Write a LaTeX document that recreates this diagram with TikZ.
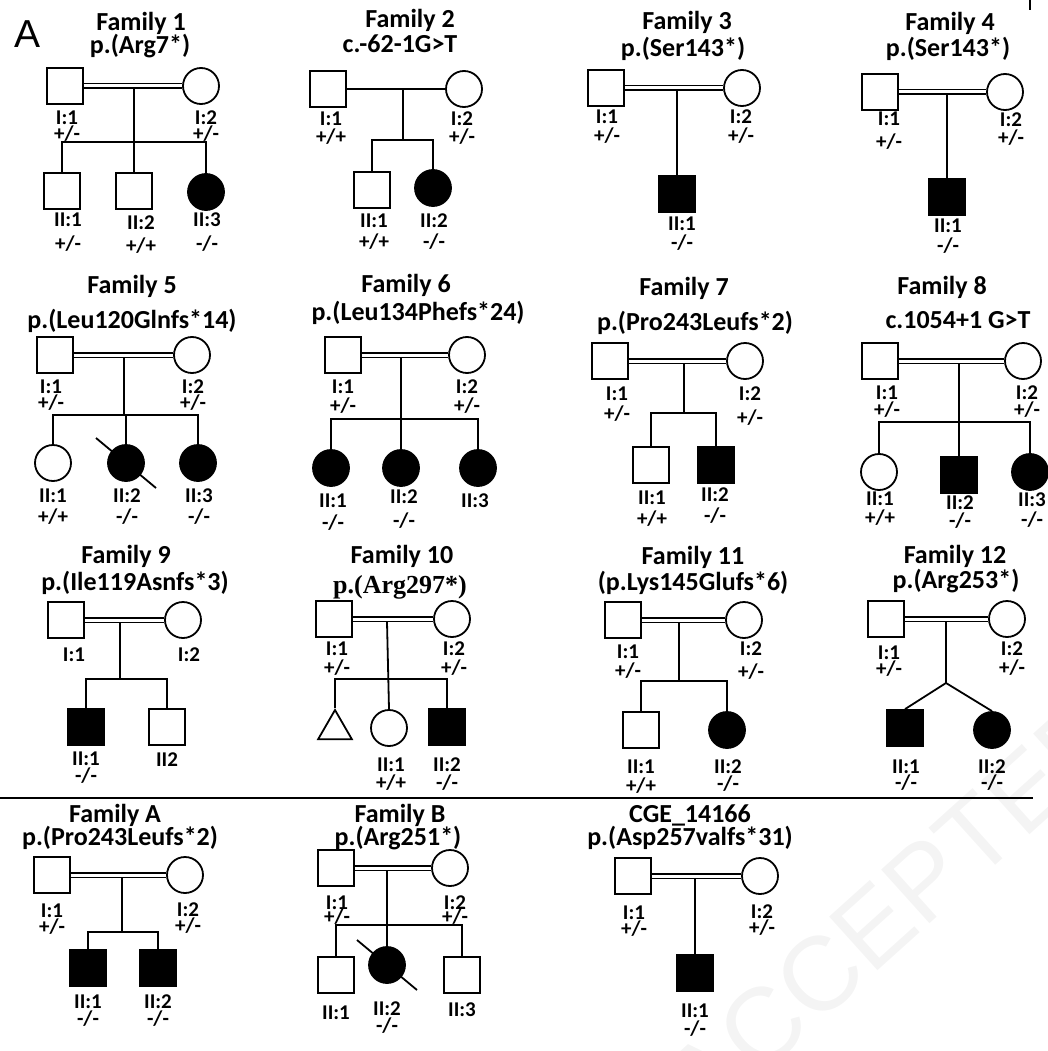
\documentclass[tikz,border=0pt]{standalone}
\usepackage{fontspec}
\setmainfont{Carlito}
\newfontfamily\timesfont{Liberation Serif}
\newfontfamily\arialfont{Liberation Sans}
\usetikzlibrary{shapes.geometric}
\definecolor{ink}{HTML}{000000}
\definecolor{stampgray}{HTML}{F4F4F4}
\tikzset{
  male/.style={
    rectangle,
    draw=ink,
    fill=white,
    line width=1.8pt,
    minimum size=36pt,
    inner sep=0pt
  },
  female/.style={male,circle},
  unknown/.style={male,regular polygon,regular polygon sides=3,minimum size=39pt},
  hit/.style={fill=ink},
  couple/.style={draw=ink,line width=1.8pt},
  kin couple/.style={draw=ink,line width=1.6pt,double=white,double distance=3pt},
  descent/.style={draw=ink,line width=1.8pt},
  deceased/.style={draw=ink,line width=1.8pt},
  family title/.style={
    anchor=base,
    inner sep=0pt,
    text=ink,
    font=\bfseries\fontsize{26}{30}\selectfont
  },
  tag/.style={
    inner sep=0pt,
    align=center,
    text=ink,
    font=\bfseries\fontsize{21}{17}\selectfont
  }
}

\begin{document}
\begin{tikzpicture}[x=1pt,y=-1pt]
  \useasboundingbox (0,0) rectangle (1048,1051);

  \node[rotate=42,text=stampgray,font=\arialfont\fontsize{105}{105}\selectfont]
    (stamp) at (895,907) {ACCEPTED};

  \node[anchor=base,inner sep=0pt,text=ink,font=\arialfont\fontsize{39}{40}\selectfont]
    (panel) at (28,48) {A};
  \draw[descent] (1030,0) -- (1030,10);

  % Family 1
  \node[family title] (f1name) at (141,31) {Family 1};
  \node[family title] (f1var) at (140,54) {p.(Arg7*)};
  \node[male] (f1i1) at (65,86) {};
  \node[female] (f1i2) at (201,86) {};
  \node[male] (f1ii1) at (62,191) {};
  \node[male] (f1ii2) at (134,191) {};
  \node[female,hit] (f1ii3) at (206,192) {};
  \coordinate (f1mid) at (134,89);
  \coordinate (f1sib) at (134,142);
  \draw[kin couple] (f1i1.east) -- (f1i2.west);
  \draw[descent] (f1mid) -- (f1ii2.north);
  \draw[descent] (f1ii1.north) |- (f1sib) -| (f1ii3.north);
  \node[tag] (f1i1tag) at (67,126) {I:1\\[-1pt]+/-};
  \node[tag] (f1i2tag) at (206,126) {I:2\\[-1pt]+/-};
  \node[tag] (f1ii1tag) at (68,232) {II:1\\[7pt]+/-};
  \node[tag] (f1ii2tag) at (141,235) {II:2\\[6pt]+/+};
  \node[tag] (f1ii3tag) at (207,232) {II:3\\[7pt]-/-};

  % Family 2
  \node[family title] (f2name) at (410,28) {Family 2};
  \node[family title] (f2var) at (400,53) {c.-62-1G>T};
  \node[male] (f2i1) at (328,89) {};
  \node[female] (f2i2) at (464,89) {};
  \node[male] (f2ii1) at (372,190) {};
  \node[female,hit] (f2ii2) at (433,188) {};
  \coordinate (f2mid) at (403,89);
  \coordinate (f2sib) at (403,140);
  \draw[couple] (f2i1.east) -- (f2i2.west);
  \draw[descent] (f2mid) -- (f2sib);
  \draw[descent] (f2ii1.north) |- (f2sib) -| (f2ii2.north);
  \node[tag] (f2i1tag) at (331,128) {I:1\\[1pt]+/+};
  \node[tag] (f2i2tag) at (462,128) {I:2\\[1pt]+/-};
  \node[tag] (f2ii1tag) at (374,232) {II:1\\[4pt]+/+};
  \node[tag] (f2ii2tag) at (434,232) {II:2\\[4pt]-/-};

  % Family 3
  \node[family title] (f3name) at (687,30) {Family 3};
  \node[family title] (f3var) at (683,57) {p.(Ser143*)};
  \node[male] (f3i1) at (606,88) {};
  \node[female] (f3i2) at (742,88) {};
  \node[male,hit] (f3ii1) at (677,194) {};
  \coordinate (f3mid) at (677,91);
  \draw[kin couple] (f3i1.east) -- (f3i2.west);
  \draw[descent] (f3mid) -- (f3ii1.north);
  \node[tag] (f3i1tag) at (607,127) {I:1\\[2pt]+/-};
  \node[tag] (f3i2tag) at (741,127) {I:2\\[2pt]+/-};
  \node[tag] (f3ii1tag) at (682,234) {II:1\\[2pt]-/-};

  % Family 4
  \node[family title] (f4name) at (950,31) {Family 4};
  \node[family title] (f4var) at (948,57) {p.(Ser143*)};
  \node[male] (f4i1) at (880,92) {};
  \node[female] (f4i2) at (1005,92) {};
  \node[male,hit] (f4ii1) at (947,197) {};
  \coordinate (f4mid) at (947,95);
  \draw[kin couple] (f4i1.east) -- (f4i2.west);
  \draw[descent] (f4mid) -- (f4ii1.north);
  \node[tag] (f4i1tag) at (889,131) {I:1\\[6pt]+/-};
  \node[tag] (f4i2tag) at (1011,129) {I:2\\[1pt]+/-};
  \node[tag] (f4ii1tag) at (948,236) {II:1\\[3pt]-/-};

  % Family 5
  \node[family title] (f5name) at (132,293) {Family 5};
  \node[family title] (f5var) at (132,328) {p.(Leu120Glnfs*14)};
  \node[male] (f5i1) at (55,355) {};
  \node[female] (f5i2) at (192,355) {};
  \node[female] (f5ii1) at (53,463) {};
  \node[female,hit] (f5ii2) at (126,463) {};
  \node[female,hit] (f5ii3) at (198,463) {};
  \coordinate (f5mid) at (124,358);
  \coordinate (f5sib) at (124,415);
  \draw[kin couple] (f5i1.east) -- (f5i2.west);
  \draw[descent] (f5mid) -- (f5sib);
  \draw[descent] (f5ii1.north) |- (f5sib) -| (f5ii3.north);
  \draw[descent] (f5sib) -| (f5ii2.north);
  \draw[deceased] ([xshift=-30pt,yshift=25pt]f5ii2.center) --
    ([xshift=30pt,yshift=-25pt]f5ii2.center);
  \node[tag] (f5i1tag) at (51,395) {I:1\\[-1pt]+/-};
  \node[tag] (f5i2tag) at (193,395) {I:2\\[-1pt]+/-};
  \node[tag] (f5ii1tag) at (53,507) {II:1\\[4pt]+/+};
  \node[tag] (f5ii2tag) at (127,507) {II:2\\[4pt]-/-};
  \node[tag] (f5ii3tag) at (199,507) {II:3\\[4pt]-/-};

  % Family 6
  \node[family title] (f6name) at (406,292) {Family 6};
  \node[family title] (f6var) at (418,320) {p.(Leu134Phefs*24)};
  \node[male] (f6i1) at (343,355) {};
  \node[female] (f6i2) at (467,355) {};
  \node[female,hit] (f6ii1) at (331,468) {};
  \node[female,hit] (f6ii2) at (401,468) {};
  \node[female,hit] (f6ii3) at (478,468) {};
  \coordinate (f6mid) at (401,358);
  \coordinate (f6sib) at (401,419);
  \draw[kin couple] (f6i1.east) -- (f6i2.west);
  \draw[descent] (f6mid) -- (f6ii2.north);
  \draw[descent] (f6ii1.north) |- (f6sib) -| (f6ii3.north);
  \node[tag] (f6i1tag) at (343,397) {I:1\\[2pt]+/-};
  \node[tag] (f6i2tag) at (467,397) {I:2\\[2pt]+/-};
  \node[tag] (f6ii1tag) at (333,512) {II:1\\[5pt]-/-};
  \node[tag] (f6ii2tag) at (404,509) {II:2\\[7pt]-/-};
  \node[tag] (f6ii3tag) at (475,501) {II:3};

  % Family 7
  \node[family title] (f7name) at (684,295) {Family 7};
  \node[family title] (f7var) at (695,330) {p.(Pro243Leufs*2)};
  \node[male] (f7i1) at (610,361) {};
  \node[female] (f7i2) at (745,361) {};
  \node[male] (f7ii1) at (651,465) {};
  \node[male,hit] (f7ii2) at (716,465) {};
  \coordinate (f7mid) at (684,364);
  \coordinate (f7sib) at (684,413);
  \draw[kin couple] (f7i1.east) -- (f7i2.west);
  \draw[descent] (f7mid) -- (f7sib);
  \draw[descent] (f7ii1.north) |- (f7sib) -| (f7ii2.north);
  \node[tag] (f7i1tag) at (617,404) {I:1\\[3pt]+/-};
  \node[tag] (f7i2tag) at (750,406) {I:2\\[7pt]+/-};
  \node[tag] (f7ii1tag) at (652,509) {II:1\\[4pt]+/+};
  \node[tag] (f7ii2tag) at (715,506) {II:2\\[4pt]-/-};

  % Family 8
  \node[family title] (f8name) at (942,294) {Family 8};
  \node[family title] (f8var) at (958,328) {c.1054+1 G>T};
  \node[male] (f8i1) at (880,361) {};
  \node[female] (f8i2) at (1023,361) {};
  \node[female] (f8ii1) at (879,472) {};
  \node[male,hit] (f8ii2) at (959,475) {};
  \node[female,hit] (f8ii3) at (1030,472) {};
  \coordinate (f8mid) at (959,364);
  \coordinate (f8sib) at (959,422);
  \draw[kin couple] (f8i1.east) -- (f8i2.west);
  \draw[descent] (f8mid) -- (f8ii2.north);
  \draw[descent] (f8ii1.north) |- (f8sib) -| (f8ii3.north);
  \node[tag] (f8i1tag) at (887,402) {I:1\\[0pt]+/-};
  \node[tag] (f8i2tag) at (1027,402) {I:2\\[0pt]+/-};
  \node[tag] (f8ii1tag) at (880,509) {II:1\\[2pt]+/+};
  \node[tag] (f8ii2tag) at (960,512) {II:2\\[1pt]-/-};
  \node[tag] (f8ii3tag) at (1032,510) {II:3\\[3pt]-/-};

  % Family 9
  \node[family title] (f9name) at (126,563) {Family 9};
  \node[family title] (f9var) at (135,590) {p.(Ile119Asnfs*3)};
  \node[male] (f9i1) at (66,620) {};
  \node[female] (f9i2) at (183,620) {};
  \node[male,hit] (f9ii1) at (86,727) {};
  \node[male] (f9ii2) at (167,727) {};
  \coordinate (f9mid) at (120,623);
  \coordinate (f9sib) at (120,679);
  \draw[kin couple] (f9i1.east) -- (f9i2.west);
  \draw[descent] (f9mid) -- (f9sib);
  \draw[descent] (f9ii1.north) |- (f9sib) -| (f9ii2.north);
  \node[tag] (f9i1tag) at (74,655) {I:1};
  \node[tag] (f9i2tag) at (189,655) {I:2};
  \node[tag] (f9ii1tag) at (86,768) {II:1\\[0pt]-/-};
  \node[tag] (f9ii2tag) at (167,760) {II2};

  % Family 10
  \node[family title] (f10name) at (402,563) {Family 10};
  \node[family title,font=\timesfont\bfseries\fontsize{26}{30}\selectfont]
    (f10var) at (400,593) {p.(Arg297*)};
  \node[male] (f10i1) at (334,619) {};
  \node[female] (f10i2) at (452,619) {};
  \node[unknown] (f10ii0) at (335,729.5) {};
  \node[female] (f10ii1) at (389,728) {};
  \node[male,hit] (f10ii2) at (447,727) {};
  \coordinate (f10mid) at (387,622);
  \coordinate (f10sib) at (387,679);
  \draw[kin couple] (f10i1.east) -- (f10i2.west);
  \draw[descent] (f10mid) -- (f10ii1.north);
  \draw[descent] (f10ii0.north) |- (f10sib) -| (f10ii2.north);
  \node[tag] (f10i1tag) at (337,659) {I:1\\[2pt]+/-};
  \node[tag] (f10i2tag) at (454,659) {I:2\\[2pt]+/-};
  \node[tag] (f10ii1tag) at (391,774) {II:1\\[1pt]+/+};
  \node[tag] (f10ii2tag) at (447,774) {II:2\\[1pt]-/-};

  % Family 11
  \node[family title] (f11name) at (693,564) {Family 11};
  \node[family title] (f11var) at (693,590) {(p.Lys145Glufs*6)};
  \node[male] (f11i1) at (623,620) {};
  \node[female] (f11i2) at (744,620) {};
  \node[male] (f11ii1) at (641,730) {};
  \node[female,hit] (f11ii2) at (727,730) {};
  \coordinate (f11mid) at (679,623);
  \coordinate (f11sib) at (679,681);
  \draw[kin couple] (f11i1.east) -- (f11i2.west);
  \draw[descent] (f11mid) -- (f11sib);
  \draw[descent] (f11ii1.north) |- (f11sib) -| (f11ii2.north);
  \node[tag] (f11i1tag) at (628,662) {I:1\\[2pt]+/-};
  \node[tag] (f11i2tag) at (751,661) {I:2\\[6pt]+/-};
  \node[tag] (f11ii1tag) at (641,777) {II:1\\[2pt]+/+};
  \node[tag] (f11ii2tag) at (728,776) {II:2\\[0pt]-/-};

  % Family 12
  \node[family title] (f12name) at (955,563) {Family 12};
  \node[family title] (f12var) at (956,588) {p.(Arg253*)};
  \node[male] (f12i1) at (886,619) {};
  \node[female] (f12i2) at (1007,619) {};
  \node[male,hit] (f12ii1) at (905,728) {};
  \node[female,hit] (f12ii2) at (992,730) {};
  \coordinate (f12mid) at (946,622);
  \coordinate (f12twin) at (946,683);
  \draw[kin couple] (f12i1.east) -- (f12i2.west);
  \draw[descent] (f12mid) -- (f12twin);
  \draw[descent] (f12ii1.north) -- (f12twin) -- (f12ii2.north);
  \node[tag] (f12i1tag) at (889,661) {I:1\\[-1pt]+/-};
  \node[tag] (f12i2tag) at (1012,659) {I:2\\[2pt]+/-};
  \node[tag] (f12ii1tag) at (906,775) {II:1\\[-1pt]-/-};
  \node[tag] (f12ii2tag) at (992,775) {II:2\\[-1pt]-/-};

  \draw[descent] (0,798) -- (1033,798);

  % Family A
  \node[family title] (faname) at (115,822) {Family A};
  \node[family title] (favar) at (120,845) {p.(Pro243Leufs*2)};
  \node[male] (fai1) at (52,875) {};
  \node[female] (fai2) at (185,875) {};
  \node[male,hit] (faii1) at (88,968) {};
  \node[male,hit] (faii2) at (158,968) {};
  \coordinate (famid) at (122,878);
  \coordinate (fasib) at (122,932);
  \draw[kin couple] (fai1.east) -- (fai2.west);
  \draw[descent] (famid) -- (fasib);
  \draw[descent] (faii1.north) |- (fasib) -| (faii2.north);
  \node[tag] (fai1tag) at (52,919) {I:1\\[-1pt]+/-};
  \node[tag] (fai2tag) at (188,918) {I:2\\[-1pt]+/-};
  \node[tag] (faii1tag) at (88,1011) {II:1\\[0pt]-/-};
  \node[tag] (faii2tag) at (158,1011) {II:2\\[0pt]-/-};

  % Family B
  \node[family title] (fbname) at (400,822) {Family B};
  \node[family title] (fbvar) at (398,845) {p.(Arg251*)};
  \node[male] (fbi1) at (336,868) {};
  \node[female] (fbi2) at (450,868) {};
  \node[male] (fbii1) at (336,975) {};
  \node[female,hit] (fbii2) at (387,965) {};
  \node[male] (fbii3) at (462,975) {};
  \coordinate (fbmid) at (387,871);
  \coordinate (fbsib) at (387,925);
  \draw[kin couple] (fbi1.east) -- (fbi2.west);
  \draw[descent] (fbmid) -- (fbii2.north);
  \draw[descent] (fbii1.north) |- (fbsib) -| (fbii3.north);
  \draw[deceased] ([xshift=-30pt,yshift=25pt]fbii2.center) --
    ([xshift=30pt,yshift=-25pt]fbii2.center);
  \node[tag] (fbi1tag) at (337,910) {I:1\\[-3pt]+/-};
  \node[tag] (fbi2tag) at (455,910) {I:2\\[-3pt]+/-};
  \node[tag] (fbii1tag) at (336,1013) {II:1};
  \node[tag] (fbii2tag) at (387,1018) {II:2\\[0pt]-/-};
  \node[tag] (fbii3tag) at (462,1010) {II:3};

  % CGE_14166
  \node[family title] (fcname) at (690,822) {CGE\_14166};
  \node[family title] (fcvar) at (690,845) {p.(Asp257valfs*31)};
  \node[male] (fci1) at (633,876) {};
  \node[female] (fci2) at (760,876) {};
  \node[male,hit] (fcii1) at (695,973) {};
  \coordinate (fcmid) at (695,879);
  \draw[kin couple] (fci1.east) -- (fci2.west);
  \draw[descent] (fcmid) -- (fcii1.north);
  \node[tag] (fci1tag) at (634,921) {I:1\\[-1pt]+/-};
  \node[tag] (fci2tag) at (762,920) {I:2\\[-1pt]+/-};
  \node[tag] (fcii1tag) at (695,1020) {II:1\\[1pt]-/-};
\end{tikzpicture}
\end{document}
